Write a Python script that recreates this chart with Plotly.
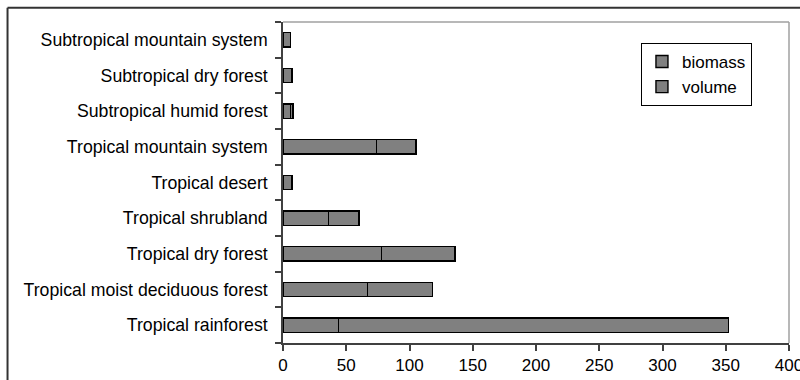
import plotly.graph_objects as go

categories = [
    "Tropical rainforest",
    "Tropical moist deciduous forest",
    "Tropical dry forest",
    "Tropical shrubland",
    "Tropical desert",
    "Tropical mountain system",
    "Subtropical humid forest",
    "Subtropical dry forest",
    "Subtropical mountain system",
]
biomass = [44, 67, 78, 36, 7, 74, 6, 7, 6]
volume = [308, 51, 58, 24, None, 31, 2, None, None]
x_ticks = [0, 50, 100, 150, 200, 250, 300, 350, 400]

FONT = "Liberation Sans, Arial, sans-serif"
FSIZE = 17.7
BAR_FILL = "#808080"

fig = go.Figure()
fig.add_trace(go.Bar(
    y=categories, x=biomass, orientation="h", name="biomass",
    marker=dict(color=BAR_FILL, line=dict(color="#000000", width=1.4)),
    legendgroup="a",
))
fig.add_trace(go.Bar(
    y=categories, x=volume, orientation="h", name="volume",
    marker=dict(color=BAR_FILL, line=dict(color="#000000", width=1.4)),
    legendgroup="b",
))

# plot-area outline (top/right light gray)
fig.add_shape(type="line", xref="paper", yref="paper", x0=0, x1=1, y0=1, y1=1,
              line=dict(color="#a0a0a0", width=1.5), layer="below")
fig.add_shape(type="line", xref="paper", yref="paper", x0=1, x1=1, y0=0, y1=1,
              line=dict(color="#a0a0a0", width=1.5), layer="below")
# outer chart border (top and left visible)
fig.add_shape(type="line", xref="paper", yref="paper", x0=-0.5444, x1=1.1, y0=1.0445, y1=1.0445,
              line=dict(color="#333333", width=2))
fig.add_shape(type="line", xref="paper", yref="paper", x0=-0.5444, x1=-0.5444, y0=-0.2, y1=1.0445,
              line=dict(color="#333333", width=2))

fig.update_layout(
    width=800, height=380,
    margin=dict(l=283, r=11, t=22, b=37, pad=0, autoexpand=False),
    paper_bgcolor="white", plot_bgcolor="white",
    barmode="stack", bargap=0.6,
    font=dict(family=FONT, size=FSIZE, color="#000000"),
    showlegend=True,
    legend=dict(
        x=0.9268, y=0.9346, xanchor="right", yanchor="top",
        bordercolor="#000000", borderwidth=1, bgcolor="white",
        traceorder="normal", tracegroupgap=5,
        font=dict(family=FONT, size=17, color="#000000"),
        itemwidth=30,
    ),
    xaxis=dict(
        range=[0, 400], tickvals=x_ticks, ticktext=[str(v) for v in x_ticks],
        showgrid=False, zeroline=False, showline=True, linecolor="#404040", linewidth=1.5,
        ticks="outside", ticklen=6, tickcolor="#404040", tickwidth=1.5,
        tickfont=dict(family=FONT, size=17, color="#000000"),
        ticklabeloverflow="allow", automargin=False,
        fixedrange=True,
    ),
    yaxis=dict(
        type="category", categoryorder="array", categoryarray=categories,
        showgrid=False, zeroline=False, showline=True, linecolor="#404040", linewidth=1.5,
        ticks="outside", ticklen=6, tickcolor="#404040", tickwidth=1.5, tickson="boundaries",
        tickfont=dict(family=FONT, size=FSIZE, color="#000000"),
        ticklabelstandoff=10, automargin=False,
    ),
)

fig.write_html(
    "out.html",
    config={"displayModeBar": False},
    post_script="document.body.style.margin='0px';document.body.style.overflow='hidden';",
)
